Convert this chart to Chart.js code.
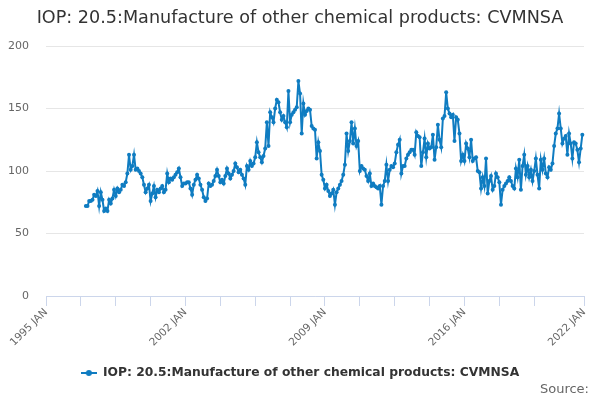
<!DOCTYPE html>
<html><head><meta charset="utf-8">
<script src="https://cdn.jsdelivr.net/npm/chart.js@4/dist/chart.umd.min.js"></script>
<style>html,body{margin:0;padding:0;background:#fff}</style>
</head><body>
<canvas id="c" width="600" height="400"></canvas>
<script>
const titleText = 'IOP: 20.5:Manufacture of other chemical products: CVMNSA';
const seriesName = 'IOP: 20.5:Manufacture of other chemical products: CVMNSA';
const sourceText = 'Source:';
const monthNames = ['JAN','FEB','MAR','APR','MAY','JUN','JUL','AUG','SEP','OCT','NOV','DEC'];
const axisStartYear = 1995;
const axisEndYear = 2022;
const dataStart = '1997 JAN';
const tickStep = 21;
const tickLabels = ['1995 JAN','2002 JAN','2009 JAN','2016 JAN','2022 JAN'];
const yMin = 0, yMax = 200, yStep = 50;
// monthly values, 1997 JAN .. 2021 DEC
const values = [
  72,72,76,76,77,81,80,84,72,83,77,68,
  70,68,77,74,78,85,80,86,83,85,89,88,
  91,98,113,101,104,113,101,102,100,98,95,89,
  83,86,89,76,82,88,79,85,83,86,88,83,
  85,98,91,94,93,95,97,99,102,95,88,90,
  90,91,91,86,81,89,93,97,94,89,85,79,
  76,78,90,88,89,92,96,101,96,91,93,90,
  96,102,98,94,97,100,106,103,99,101,97,94,
  89,104,101,108,104,106,111,123,115,111,107,112,
  118,139,120,147,143,139,150,157,155,147,141,144,
  139,135,164,139,145,147,149,151,172,162,130,154,
  145,148,150,149,136,134,133,110,123,116,97,93,
  86,89,84,80,82,85,73,83,86,89,92,97,
  105,130,116,124,139,122,134,120,124,100,104,102,
  101,96,92,98,88,90,88,87,86,88,73,88,
  92,105,92,101,104,103,106,115,121,125,98,104,
  104,110,113,115,117,117,113,131,128,127,104,115,
  126,111,122,118,119,129,109,119,137,125,119,142,
  144,163,150,146,143,145,124,143,141,130,108,113,
  108,122,118,111,125,108,110,111,100,99,86,95,
  88,110,82,92,96,85,88,98,95,91,73,85,
  88,90,92,95,92,88,86,102,95,109,85,104,
  113,97,104,95,101,92,100,110,97,86,109,101,
  110,98,95,103,101,106,120,130,134,146,134,122,
  126,128,113,130,122,110,123,122,117,107,118,129
];

const categories = [];
for (let y = axisStartYear; y <= axisEndYear; y++) {
  for (const m of monthNames) {
    categories.push(y + ' ' + m);
    if (y === axisEndYear) break;
  }
}
const startIdx = categories.indexOf(dataStart);
const series = categories.map((c, i) => {
  const k = i - startIdx;
  return (k >= 0 && k < values.length) ? values[k] : null;
});

const lineColor = '#0f7cc1';
const sym = document.createElement('canvas');
sym.width = 16; sym.height = 8;
(function(){
  const g = sym.getContext('2d');
  g.strokeStyle = lineColor; g.lineWidth = 2;
  g.beginPath(); g.moveTo(0, 4); g.lineTo(16, 4); g.stroke();
  g.fillStyle = lineColor; g.beginPath(); g.arc(8, 4, 3, 0, Math.PI * 2); g.fill();
})();

// keep the "Source:" credit inside the right margin
const sourceInset = {
  id: 'sourceInset',
  afterLayout(chart) {
    chart.boxes.forEach(b => {
      if (b.options && b.options.text === sourceText) {
        b.right = chart.width - 11;
        b.width = b.right - b.left;
      }
    });
  }
};

Chart.defaults.font.family = "'DejaVu Sans', sans-serif";

new Chart(document.getElementById('c'), {
  type: 'line',
  data: {
    labels: categories,
    datasets: [{
      label: seriesName,
      data: series,
      borderColor: lineColor,
      backgroundColor: lineColor,
      borderWidth: 2,
      pointRadius: 2,
      pointBorderWidth: 0,
      pointBackgroundColor: lineColor,
      spanGaps: false,
      tension: 0
    }]
  },
  plugins: [sourceInset],
  options: {
    responsive: false,
    animation: false,
    layout: { padding: 0 },
    plugins: {
      tooltip: { enabled: false },
      title: {
        display: true, text: titleText, color: '#333333',
        font: { size: 17.6, weight: 'normal' },
        padding: { top: 7.4, bottom: 17.5 }
      },
      subtitle: {
        display: true, text: sourceText, position: 'bottom', align: 'end',
        color: '#666666', font: { size: 13, weight: 'normal' },
        padding: { top: -6.95, bottom: 2.2 }
      },
      legend: {
        position: 'bottom',
        labels: {
          usePointStyle: true, pointStyle: sym, pointStyleWidth: 16,
          color: '#333333', font: { size: 12.3, weight: 'bold' }, padding: 10
        }
      }
    },
    scales: {
      x: {
        type: 'category',
        offset: false,
        afterBuildTicks: (s) => {
          const t = [];
          for (let i = 0; i < categories.length - tickStep + 1; i += tickStep) t.push({ value: i });
          t.push({ value: categories.length - 1 });
          s.ticks = t;
        },
        afterFit: (s) => { s.height = 60.85; },
        ticks: {
          autoSkip: false, minRotation: 45, maxRotation: 45,
          color: '#666666', font: { size: 10.5 }, padding: 0,
          callback: function (v) {
            const l = this.getLabelForValue(v);
            return tickLabels.includes(l) ? l : '';
          }
        },
        grid: { display: true, drawOnChartArea: false, drawTicks: true, tickLength: 10, color: '#ccd6eb' },
        border: { display: true, color: '#ccd6eb', width: 1 }
      },
      y: {
        min: yMin, max: yMax,
        afterFit: (s) => { s.width = 46; },
        ticks: { stepSize: yStep, color: '#666666', font: { size: 11 }, padding: 17 },
        grid: { color: '#e6e6e6', drawTicks: false },
        border: { display: false }
      },
      r: {
        type: 'linear', position: 'right', display: true,
        afterFit: (s) => { s.width = 16; },
        ticks: { display: false }, grid: { display: false }, border: { display: false }
      }
    }
  }
});
</script>
</body></html>
